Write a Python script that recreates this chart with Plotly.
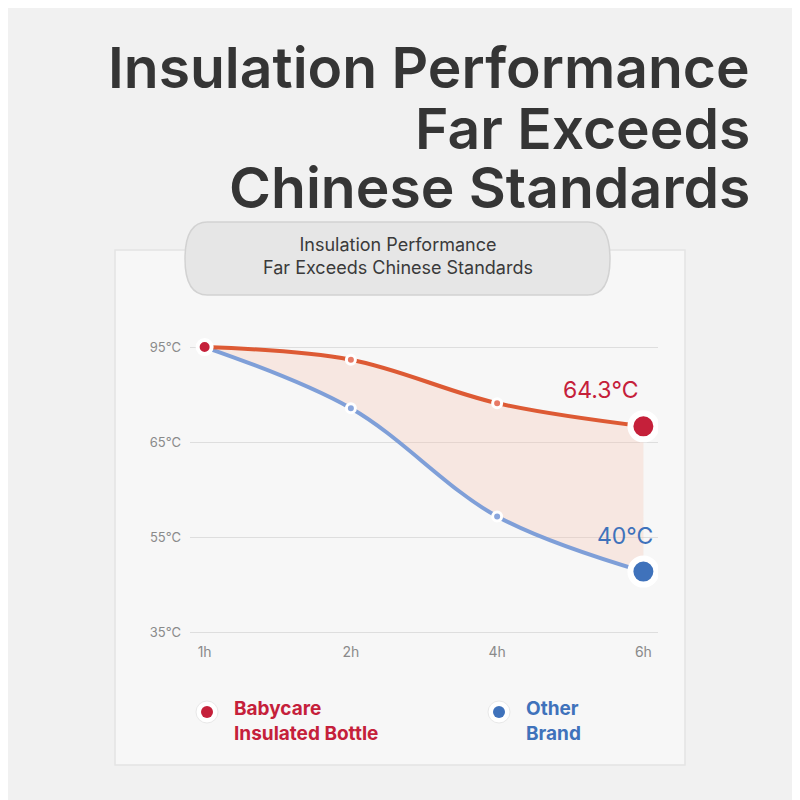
import numpy as np
import plotly.graph_objects as go

hours = ["1h", "2h", "4h", "6h"]
tick_temps = [35, 55, 65, 95]          # evenly spaced labels on the chart
tick_labels = ["35°C", "55°C", "65°C", "95°C"]
babycare = [95, 91, 77.3, 70]
other = [95, 75.7, 57.2, 47.8]
babycare_end = "64.3℃"
other_end = "40℃"

RED = "#c5203a"
BLUE = "#3f72bb"
OFF = 8  # page body margin

def px(v):
    return (v - OFF) / 800

def py(v):
    return 1 - (v - OFF) / 800

def pos(v):
    # the chart's y scale is piecewise: each labelled step takes the same height
    return np.interp(v, tick_temps, range(len(tick_temps)))

x = list(range(len(hours)))
yb = pos(babycare)
yo = pos(other)

fig = go.Figure()
fig.add_trace(go.Scatter(x=x, y=yo, mode="lines", line=dict(color="#7f9fd8", width=4, shape="spline"),
                         hoverinfo="skip"))
fig.add_trace(go.Scatter(x=x, y=yb, mode="lines", line=dict(color="#dd5a34", width=4, shape="spline"),
                         fill="tonexty", fillcolor="rgba(248,190,170,0.28)", hoverinfo="skip"))
fig.add_trace(go.Scatter(x=x[1:3], y=yb[1:3], mode="markers",
                         marker=dict(size=9, color="#e77a66", line=dict(color="white", width=3))))
fig.add_trace(go.Scatter(x=x[1:3], y=yo[1:3], mode="markers",
                         marker=dict(size=9, color="#8aa6dc", line=dict(color="white", width=3))))
fig.add_trace(go.Scatter(x=[0], y=[yb[0]], mode="markers",
                         marker=dict(size=14, color=RED, line=dict(color="white", width=4))))
fig.add_trace(go.Scatter(x=[3], y=[yb[3]], mode="markers",
                         marker=dict(size=26, color=RED, line=dict(color="white", width=6))))
fig.add_trace(go.Scatter(x=[3], y=[yo[3]], mode="markers",
                         marker=dict(size=26, color=BLUE, line=dict(color="white", width=6))))

fig.add_annotation(x=3, y=yb[3], text=babycare_end, showarrow=False, xanchor="right",
                   xshift=-2, yshift=36, font=dict(size=23, color=RED, family="Inter"))
fig.add_annotation(x=3, y=yo[3], text=other_end, showarrow=False, xanchor="right",
                   xshift=12, yshift=36, font=dict(size=23, color=BLUE, family="Inter"))

# card and pill
fig.add_shape(type="rect", xref="paper", yref="paper", x0=px(115), x1=px(685), y0=py(765), y1=py(250),
              fillcolor="#f7f7f7", line=dict(color="#e4e4e4", width=1.5), layer="below")
l, r, b, t = px(185), px(610), py(295), py(222)
rr = 0.028
fig.add_shape(type="path", xref="paper", yref="paper", layer="below",
              path=f"M {l+rr},{b} L {r-rr},{b} Q {r},{b} {r},{b+0.045} Q {r},{t} {r-rr},{t} "
                   f"L {l+rr},{t} Q {l},{t} {l},{b+0.045} Q {l},{b} {l+rr},{b} Z",
              fillcolor="#e6e6e6", line=dict(color="#d2d2d2", width=1.5))
fig.add_annotation(xref="paper", yref="paper", x=px(398), y=py(256), yanchor="middle", showarrow=False,
                   text="Insulation Performance<br>Far Exceeds Chinese Standards",
                   font=dict(size=18, color="#3a3a3a", family="Inter"))

# title
for i, line in enumerate(["Insulation Performance", "Far Exceeds", "Chinese Standards"]):
    fig.add_annotation(xref="paper", yref="paper", x=px(752), y=py(68 + 60 * i), xanchor="right",
                       yanchor="middle", showarrow=False, text=line,
                       font=dict(size=57, color="#353535", family="Inter", weight=600))

# legend
for lx, col, txt in [(207, RED, "Babycare<br>Insulated Bottle"), (499, BLUE, "Other<br>Brand")]:
    fig.add_shape(type="circle", xref="paper", yref="paper", x0=px(lx - 11), x1=px(lx + 11),
                  y0=py(723), y1=py(701), fillcolor="white", line=dict(color="#e8e8e8", width=1))
    fig.add_shape(type="circle", xref="paper", yref="paper", x0=px(lx - 6), x1=px(lx + 6),
                  y0=py(718), y1=py(706), fillcolor=col, line=dict(width=0))
    fig.add_annotation(xref="paper", yref="paper", x=px(lx + 25), y=py(721), xanchor="left", yanchor="middle",
                       align="left", showarrow=False, text="<b>" + txt + "</b>",
                       font=dict(size=19, color=col, family="Inter"))

fig.update_layout(
    width=800, height=800, margin=dict(l=0, r=0, t=0, b=0),
    paper_bgcolor="#f1f1f1", plot_bgcolor="rgba(0,0,0,0)", showlegend=False,
    xaxis=dict(domain=[px(190), px(658)], range=[-0.1, 3.1], tickvals=x, ticktext=hours,
               showgrid=False, zeroline=False, ticks="", tickfont=dict(size=14, color="#8a8a8a", family="Inter")),
    yaxis=dict(domain=[py(642), py(328)], range=[-0.1, 3.2], tickvals=list(range(4)), ticktext=tick_labels,
               showgrid=True, gridcolor="#dedede", zeroline=False, ticks="", ticklabelstandoff=8,
               tickfont=dict(size=13, color="#8a8a8a", family="Inter")),
)
fig.write_html("out.html")
